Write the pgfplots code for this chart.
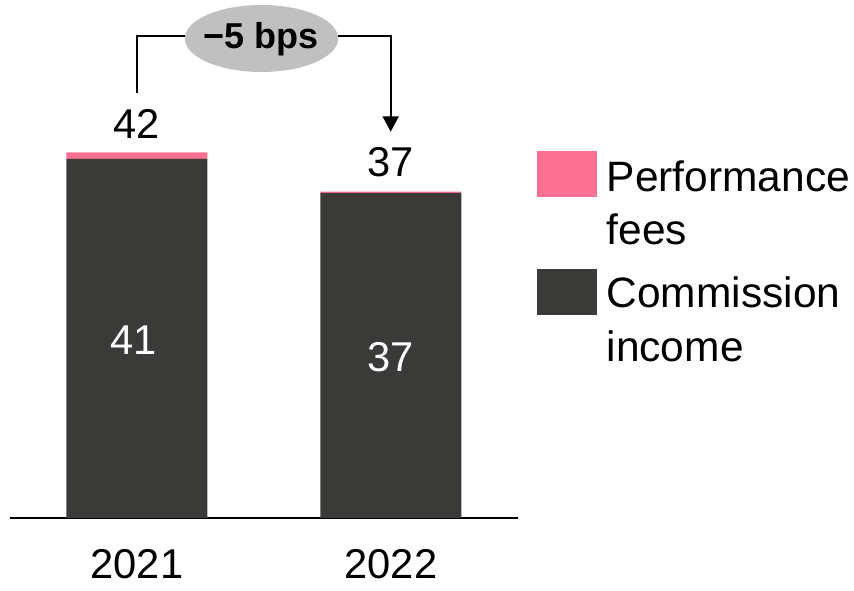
\documentclass[border=0pt]{standalone}
\usepackage{pgfplots}
\pgfplotsset{compat=1.18}
\usepackage{fontspec}
\setmainfont{Liberation Sans}
\usetikzlibrary{arrows.meta,shapes.geometric}
\definecolor{pinkc}{RGB}{252,112,145}
\definecolor{darkc}{RGB}{58,59,56}
\definecolor{ellc}{RGB}{192,192,192}
\begin{document}
\begin{tikzpicture}
\begin{axis}[
  at={(0,0)}, anchor=south west,
  scale only axis,
  width=152.4pt, height=155.4pt,
  xmin=-0.5, xmax=1.5, ymin=0, ymax=59.13,
  ybar stacked, bar width=42.3pt,
  axis x line=bottom, axis y line=none,
  axis line style={line width=0.5pt,-},
  xtick={0,1}, xticklabels={2021,2022},
  major tick length=0pt,
  xticklabel style={font=\fontsize{12.5}{15}\selectfont, yshift=-6pt},
  ytick=\empty,
  clip=false,
]
\addplot[fill=darkc, draw=none] coordinates {(0,41.0) (1,37.1)};
\addplot[fill=pinkc, draw=none] coordinates {(0,0.73) (1,0.15)};
\end{axis}
\begin{scope}[x=0.3pt, y=-0.3pt, shift={(-3pt,155.4pt)}]
\path[use as bounding box] (0,0) rectangle (854,580);
% annotation
\draw[line width=0.55pt, -{Triangle[width=4.8pt,length=4.6pt]}]
  (136.7,92.7) -- (136.7,36) -- (390.7,36) -- (390.7,131.7);
\node[ellipse, fill=ellc, minimum width=46pt, minimum height=20.1pt, inner sep=0pt] at (261.5,38.5) {};
\node[font=\fontsize{10.8}{12}\selectfont\bfseries, inner sep=0pt] at (261,39) {−5 bps};
% value labels
\node[font=\fontsize{12.5}{15}\selectfont, inner sep=0pt] at (137,123.5) {42};
\node[font=\fontsize{12.5}{15}\selectfont, inner sep=0pt] at (391,162.5) {37};
\node[font=\fontsize{12.5}{15}\selectfont, inner sep=0pt, text=white] at (134,340) {41};
\node[font=\fontsize{12.5}{15}\selectfont, inner sep=0pt, text=white] at (391,357) {37};
% legend
\fill[pinkc] (536.7,151) rectangle (597,196.7);
\fill[darkc] (536.7,269) rectangle (597,314.7);
\node[font=\fontsize{12.75}{15}\selectfont, inner sep=0pt, anchor=base west] at (606,191.7) {Performance};
\node[font=\fontsize{12.75}{15}\selectfont, inner sep=0pt, anchor=base west] at (606,245) {fees};
\node[font=\fontsize{12.75}{15}\selectfont, inner sep=0pt, anchor=base west] at (606,308) {Commission};
\node[font=\fontsize{12.75}{15}\selectfont, inner sep=0pt, anchor=base west] at (606,361.7) {income};
\end{scope}
\end{tikzpicture}
\end{document}
